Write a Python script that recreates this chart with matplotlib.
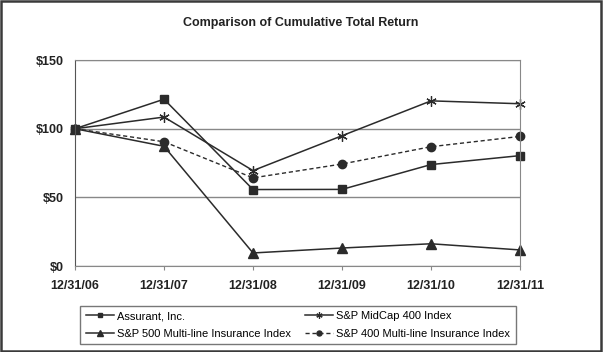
import matplotlib.pyplot as plt
from matplotlib.patches import Rectangle

plt.rcParams['font.family'] = ['Liberation Sans', 'DejaVu Sans']

dates = ['12/31/06', '12/31/07', '12/31/08', '12/31/09', '12/31/10', '12/31/11']
assurant = [100, 121.5, 55.7, 55.8, 73.9, 80.4]
midcap = [100, 108.5, 69.5, 94.9, 120.3, 118.2]
sp500_ins = [100, 87.2, 9.5, 13.1, 16.2, 11.7]
sp400_ins = [100, 90.5, 64.2, 74.3, 86.9, 94.4]
yticks = [0, 50, 100, 150]
ylabels = ['$0', '$50', '$100', '$150']

dark = '#2b2b2b'
fig = plt.figure(figsize=(6.03, 3.52), dpi=100)
fig.patches.append(Rectangle((0.002, 0.003), 0.995, 0.994, transform=fig.transFigure,
                             fill=False, edgecolor='#3a3a3a', linewidth=1.8))
ax = fig.add_axes([0.1244, 0.2443, 0.738, 0.585])

x = range(len(dates))
l1, = ax.plot(x, assurant, color=dark, lw=1.1, marker='s', ms=6, label='Assurant, Inc.')
l2, = ax.plot(x, midcap, color=dark, lw=1.1, marker=(6, 2, 0), ms=7.5, mew=0.9, label='S&P MidCap 400 Index')
l3, = ax.plot(x, sp500_ins, color=dark, lw=1.1, marker='^', ms=6.5, label='S&P 500 Multi-line Insurance Index')
l4, = ax.plot(x, sp400_ins, color=dark, lw=1.0, ls=(0, (3, 2)), marker='o', ms=6,
              label='S&P 400 Multi-line Insurance Index')

ax.set_xlim(0, 5)
ax.set_ylim(0, 150)
ax.set_yticks(yticks)
ax.set_yticklabels(ylabels, fontsize=9, fontweight='bold', color='#222222')
ax.set_xticks(list(x))
ax.set_xticklabels(dates, fontsize=9, fontweight='bold', color='#222222')
ax.tick_params(axis='y', length=0, pad=8)
ax.tick_params(axis='x', length=3, color='#888888', pad=7)
ax.grid(axis='y', color='#888888', lw=1)
ax.set_axisbelow(True)
for side in ['top', 'right', 'bottom']:
    ax.spines[side].set_color('#888888')
ax.spines['left'].set_color('#555555')
for ln in ax.lines:
    ln.set_clip_on(False)

fig.text(0.499, 0.935, 'Comparison of Cumulative Total Return', ha='center', va='center',
         fontsize=9, fontweight='bold', color='#222222')

# excel fills the legend row by row
handles = [l1, l3, l2, l4]
leg = fig.legend(handles, [h.get_label() for h in handles], ncol=2, loc='center',
                 bbox_to_anchor=(0.494, 0.077),
                 fontsize=8, frameon=True, fancybox=False, edgecolor='#555555',
                 handlelength=2.6, handletextpad=0.25, columnspacing=1.2,
                 borderpad=0.5, labelspacing=0.65, markerscale=0.6)
leg.get_frame().set_linewidth(1.0)

fig.savefig('out.png', dpi=100)
